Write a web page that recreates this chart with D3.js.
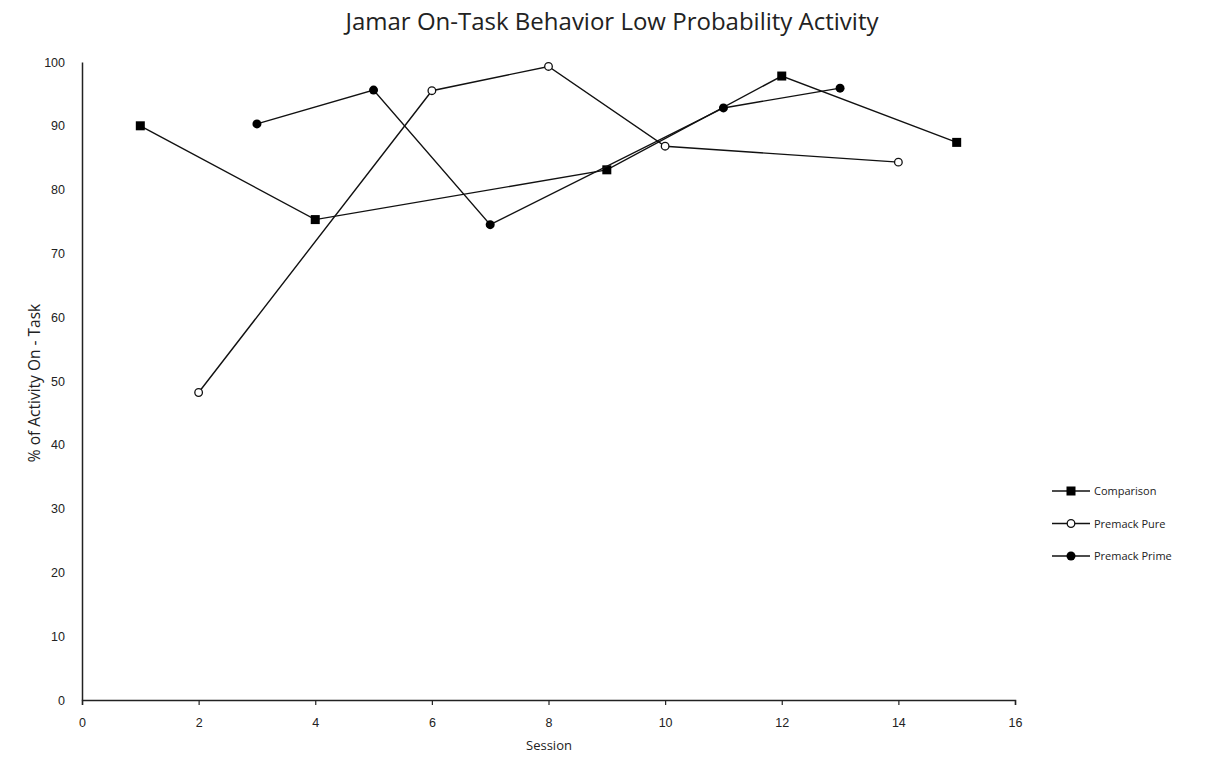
<!DOCTYPE html>
<html lang="en">
<head>
  <meta charset="UTF-8" />
  <title>Jamar On-Task Behavior Low Probability Activity</title>
  <script src="https://d3js.org/d3.v7.min.js"></script>
  <style>
    body {
      margin: 0;
      background: white;
      font-family: "Open Sans", Arial, sans-serif;
    }
    svg text { fill: #222; }
  </style>
</head>
<body>
  <div id="chart"></div>

  <script>
    // Data
    const seriesNames = ["Comparison", "Premack Pure", "Premack Prime"];
    const comparisonSessions = [1, 4, 9, 12, 15];
    const comparisonValues = [90, 75.3, 83.1, 97.8, 87.4];
    const purSessions = [2, 6, 8, 10, 14];
    const pureValues = [48.2, 95.5, 99.3, 86.8, 84.3];
    const primeSessions = [3, 5, 7, 11, 13];
    const primeValues = [90.3, 95.6, 74.5, 92.8, 95.9];
    const xTicks = [0, 2, 4, 6, 8, 10, 12, 14, 16];
    const yTicks = [0, 10, 20, 30, 40, 50, 60, 70, 80, 90, 100];

    const width = 1207, height = 761;
    const svg = d3.select("#chart").append("svg")
      .attr("width", width).attr("height", height);

    const x = d3.scaleLinear().domain([0, 16]).range([82, 1015]);
    const y = d3.scaleLinear().domain([0, 100]).range([700, 62]);

    const series = [
      { name: seriesNames[0], xs: comparisonSessions, ys: comparisonValues, marker: "square" },
      { name: seriesNames[1], xs: purSessions, ys: pureValues, marker: "open" },
      { name: seriesNames[2], xs: primeSessions, ys: primeValues, marker: "dot" }
    ];

    // title
    svg.append("text")
      .attr("x", 612).attr("y", 30)
      .attr("text-anchor", "middle")
      .style("font-size", "24px")
      .text("Jamar On-Task Behavior Low Probability Activity");

    // x axis
    const xAxis = svg.append("g")
      .attr("transform", "translate(0,700)")
      .call(d3.axisBottom(x).tickValues(xTicks).tickSize(5).tickPadding(13));
    xAxis.select(".domain").attr("stroke", "#222").attr("stroke-width", 1.5);
    xAxis.selectAll(".tick line").attr("stroke", "#222").attr("stroke-width", 1.2);
    xAxis.selectAll("text").style("font-size", "12.5px").attr("fill", "#222");

    // y axis (no tick marks)
    const yAxis = svg.append("g")
      .attr("transform", "translate(82,0)")
      .call(d3.axisLeft(y).tickValues(yTicks).tickSize(0).tickPadding(17));
    yAxis.select(".domain").attr("stroke", "#222").attr("stroke-width", 1.5);
    yAxis.selectAll("text").style("font-size", "12.5px").attr("fill", "#222");

    // axis titles
    svg.append("text")
      .attr("x", 549).attr("y", 750)
      .attr("text-anchor", "middle")
      .style("font-size", "13px")
      .text("Session");

    svg.append("text")
      .attr("transform", "translate(40,383) rotate(-90)")
      .attr("text-anchor", "middle")
      .style("font-size", "15.5px")
      .text("% of Activity On - Task");

    const line = d3.line()
      .x(d => x(d[0]))
      .y(d => y(d[1]));

    function drawMarker(g, type, cx, cy) {
      if (type === "square") {
        g.append("rect")
          .attr("x", cx - 4.5).attr("y", cy - 4.5)
          .attr("width", 9).attr("height", 9)
          .attr("fill", "black");
      } else if (type === "open") {
        g.append("circle")
          .attr("cx", cx).attr("cy", cy).attr("r", 3.8)
          .attr("fill", "white").attr("stroke", "#111").attr("stroke-width", 1.3);
      } else {
        g.append("circle")
          .attr("cx", cx).attr("cy", cy).attr("r", 4.5)
          .attr("fill", "black");
      }
    }

    series.forEach(s => {
      const pts = s.xs.map((v, i) => [v, s.ys[i]]);
      svg.append("path")
        .datum(pts)
        .attr("fill", "none")
        .attr("stroke", "#111")
        .attr("stroke-width", 1.4)
        .attr("d", line);
      const g = svg.append("g");
      pts.forEach(p => drawMarker(g, s.marker, x(p[0]), y(p[1])));
    });

    // legend
    const legend = svg.append("g");
    series.forEach((s, i) => {
      const ly = 491 + i * 32.5;
      legend.append("line")
        .attr("x1", 1052).attr("x2", 1090)
        .attr("y1", ly).attr("y2", ly)
        .attr("stroke", "#111").attr("stroke-width", 1.4);
      drawMarker(legend, s.marker, 1071, ly);
      legend.append("text")
        .attr("x", 1094).attr("y", ly + 4)
        .style("font-size", "11px")
        .text(s.name);
    });
  </script>
</body>
</html>
